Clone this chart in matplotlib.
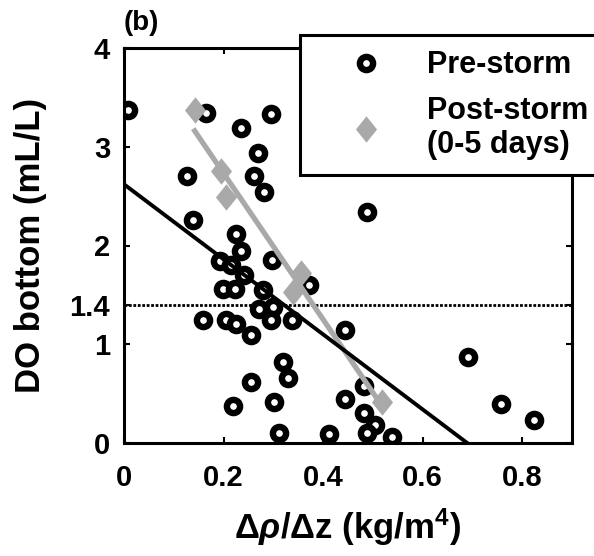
import numpy as np
import matplotlib
matplotlib.use("Agg")
import matplotlib.pyplot as plt
from matplotlib.path import Path

# ---- data ----
pre_x = [0.009, 0.165, 0.295, 0.235, 0.269, 0.127, 0.262, 0.282, 0.488, 0.139,
         0.224, 0.235, 0.297, 0.192, 0.215, 0.242, 0.372, 0.199, 0.222, 0.279,
         0.272, 0.299, 0.159, 0.205, 0.225, 0.295, 0.337, 0.255, 0.444, 0.319,
         0.329, 0.255, 0.219, 0.302, 0.444, 0.312, 0.411, 0.692, 0.482, 0.482,
         0.757, 0.824, 0.505, 0.489, 0.539]
pre_y = [3.37, 3.34, 3.33, 3.19, 2.94, 2.70, 2.70, 2.54, 2.34, 2.26,
         2.12, 1.94, 1.85, 1.84, 1.80, 1.70, 1.60, 1.56, 1.56, 1.55,
         1.36, 1.38, 1.25, 1.25, 1.21, 1.25, 1.25, 1.09, 1.14, 0.82,
         0.66, 0.62, 0.37, 0.42, 0.45, 0.10, 0.09, 0.87, 0.58, 0.30,
         0.40, 0.23, 0.18, 0.10, 0.06]
post_x = [0.142, 0.195, 0.205, 0.355, 0.339, 0.519]
post_y = [3.37, 2.75, 2.49, 1.72, 1.53, 0.42]
pre_fit = [-3.80, 2.62]      # slope, intercept of the pre-storm regression line
threshold = 1.4
xticks = [0, 0.2, 0.4, 0.6, 0.8]
xtick_labels = ["0", "0.2", "0.4", "0.6", "0.8"]
yticks = [0, 1, 1.4, 2, 3, 4]
ytick_labels = ["0", "1", "1.4", "2", "3", "4"]

plt.rcParams['font.family'] = ['Liberation Sans', 'DejaVu Sans']
plt.rcParams['font.weight'] = 'bold'
plt.rcParams['mathtext.fontset'] = 'custom'
plt.rcParams['mathtext.rm'] = 'Liberation Sans:bold'
plt.rcParams['mathtext.it'] = 'Liberation Sans:italic'
plt.rcParams['mathtext.bf'] = 'Liberation Sans:bold'

fig = plt.figure(figsize=(5.94, 5.56), dpi=100)
W, H = 594, 556
L, R, B, T = 124, 572, 443, 48
ax = fig.add_axes([L / W, 1 - B / H, (R - L) / W, (B - T) / H])

px = np.array(pre_x); py = np.array(pre_y)
qx = np.array(post_x); qy = np.array(post_y)
p_post = np.polyfit(qx, qy, 1)

gray = '#a9a9a9'
ax.axhline(threshold, color='black', lw=2.0, ls=(0, (1, 0.6)), zorder=1)
ax.plot(px, py, 'o', ms=9.5, mfc='white', mec='black', mew=4.6, ls='none',
        zorder=2, label='Pre-storm')
xx = np.array([qx.min(), qx.max()])
ax.plot(xx, np.polyval(p_post, xx), color=gray, lw=3.8, zorder=3)
diamond = Path([(0, 1), (0.8, 0), (0, -1), (-0.8, 0), (0, 1)],
               [Path.MOVETO, Path.LINETO, Path.LINETO, Path.LINETO, Path.CLOSEPOLY])
ax.plot(qx, qy, marker=diamond, ms=19, mfc=gray, mec='none', ls='none',
        zorder=4, label='Post-storm\n(0-5 days)')
xb = np.array([0, px.max()])
ax.plot(xb, np.polyval(pre_fit, xb), color='black', lw=2.8, zorder=5)

ax.set_xlim(0, 0.9)
ax.set_ylim(0, 4)
ax.set_xticks(xticks)
ax.set_xticklabels(xtick_labels)
ax.set_yticks(yticks)
ax.set_yticklabels(ytick_labels)
ax.tick_params(direction='in', length=4, width=1.5, top=True, right=True,
               labelsize=21)
ax.tick_params(axis='x', pad=15)
ax.tick_params(axis='y', pad=10)
for s in ax.spines.values():
    s.set_linewidth(2.2)

ax.set_ylabel('DO bottom (mL/L)', fontsize=25, fontweight='bold')
ax.yaxis.set_label_coords((47 - L) / (R - L), 0.5)
ax.set_xlabel(r'$\Delta\rho/\Delta$z (kg/m$^{\mathbf{4}}$)', fontsize=25,
              fontweight='bold')
ax.xaxis.set_label_coords(0.5, -(506 - B) / (B - T))
fig.text(124 / W, 1 - 23 / H, '(b)', fontsize=20, fontweight='bold',
         ha='left', va='center')

leg = ax.legend(loc='upper left', bbox_to_anchor=(300 / W, 1 - 35 / H),
                bbox_transform=fig.transFigure, fontsize=22, frameon=True,
                fancybox=False, edgecolor='black', framealpha=1,
                borderpad=0.5, borderaxespad=0, handlelength=3.3,
                handletextpad=0.35, labelspacing=0.5, markerscale=1.0)
leg.get_frame().set_linewidth(2.2)
leg.set_zorder(10)

fig.savefig('out.png', dpi=100)
